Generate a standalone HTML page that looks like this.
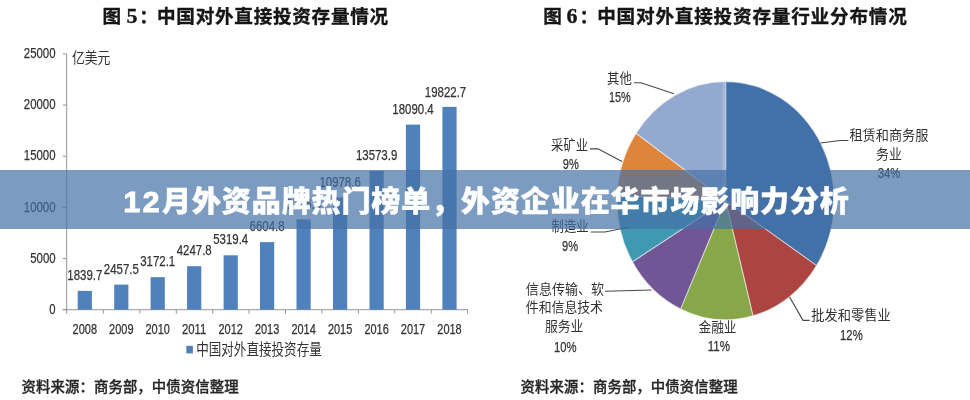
<!DOCTYPE html>
<html lang="zh-CN">
<head>
<meta charset="utf-8">
<title>12月外资品牌热门榜单，外资企业在华市场影响力分析</title>
<style>
html,body{margin:0;padding:0;background:#fff;}
body{width:970px;height:400px;position:relative;overflow:hidden;font-family:"Liberation Sans", "Noto Sans CJK SC", sans-serif;}
.wrap{position:absolute;left:0;top:0;width:970px;height:400px;overflow:hidden;background:#fff;}
.chart{position:absolute;left:0;top:0;font-family:"Liberation Sans", "Noto Sans CJK SC", sans-serif;}
.banner{position:absolute;left:0;top:170px;width:970px;height:58.6px;background:rgba(69,113,165,0.7);}
.banner h1 .n{font-size:30px;letter-spacing:2.4px;margin-right:0.3px;-webkit-text-stroke:1.1px #fff;}
.banner h1{margin:0;position:absolute;left:0;right:0;top:0;height:58.6px;line-height:63.4px;text-align:left;color:#fff;font-size:29px;font-weight:900;white-space:nowrap;font-family:"Liberation Sans", "Noto Sans CJK SC", sans-serif;letter-spacing:0.9px;-webkit-text-stroke:0.45px #fff;padding-left:123.6px;box-sizing:border-box;}
</style>
</head>
<body>
<div class="wrap">
<svg width="970" height="400" viewBox="0 0 970 400" class="chart">
<g font-weight="700" fill="#161616" stroke="#161616" stroke-width="0.35" font-size="18.6">
<text x="102.6" y="22.6">图</text>
<text x="126.4" y="22.6" font-family='"Liberation Serif", "Noto Serif CJK SC", serif' font-size="22">5</text>
<text x="139.2" y="22.6">：</text>
<text x="157.0" y="22.6" textLength="231.2" lengthAdjust="spacing">中国对外直接投资存量情况</text>
</g>
<g font-weight="700" fill="#161616" stroke="#161616" stroke-width="0.35" font-size="18.6">
<text x="543.2" y="22.6">图</text>
<text x="566.4" y="22.6" font-family='"Liberation Serif", "Noto Serif CJK SC", serif' font-size="22">6</text>
<text x="579.5" y="22.6">：</text>
<text x="597.2" y="22.6" textLength="309.6" lengthAdjust="spacing">中国对外直接投资存量行业分布情况</text>
</g>
<g stroke="#969696" stroke-width="1" fill="none">
<path d="M66.7 53.9V313.7"/>
<path d="M62.7 309.7H468.1"/>
<path d="M62.7 309.7H66.7"/>
<path d="M62.7 258.6H66.7"/>
<path d="M62.7 207.4H66.7"/>
<path d="M62.7 156.2H66.7"/>
<path d="M62.7 105.1H66.7"/>
<path d="M62.7 53.9H66.7"/>
<path d="M103.4 309.7V313.7"/>
<path d="M139.8 309.7V313.7"/>
<path d="M176.3 309.7V313.7"/>
<path d="M212.7 309.7V313.7"/>
<path d="M249.1 309.7V313.7"/>
<path d="M285.5 309.7V313.7"/>
<path d="M321.9 309.7V313.7"/>
<path d="M358.4 309.7V313.7"/>
<path d="M394.8 309.7V313.7"/>
<path d="M431.2 309.7V313.7"/>
<path d="M467.6 309.7V313.7"/>
</g>
<g fill="#333333" stroke="#333333" stroke-width="0.25" font-size="14.4" text-anchor="end">
<text x="55.6" y="313.8" textLength="6.3" lengthAdjust="spacingAndGlyphs">0</text>
<text x="55.6" y="262.7" textLength="25.4" lengthAdjust="spacingAndGlyphs">5000</text>
<text x="55.6" y="211.5" textLength="31.8" lengthAdjust="spacingAndGlyphs">10000</text>
<text x="55.6" y="160.4" textLength="31.8" lengthAdjust="spacingAndGlyphs">15000</text>
<text x="55.6" y="109.2" textLength="31.8" lengthAdjust="spacingAndGlyphs">20000</text>
<text x="55.6" y="58.1" textLength="31.8" lengthAdjust="spacingAndGlyphs">25000</text>
</g>
<text x="72" y="62.8" font-size="14.8" fill="#333333" textLength="38.4" lengthAdjust="spacingAndGlyphs">亿美元</text>
<g fill="#4f81bd">
<rect x="77.7" y="290.9" width="14.2" height="18.8"/>
<rect x="114.2" y="284.6" width="14.2" height="25.1"/>
<rect x="150.6" y="277.2" width="14.2" height="32.5"/>
<rect x="187.1" y="266.2" width="14.2" height="43.5"/>
<rect x="223.6" y="255.3" width="14.2" height="54.4"/>
<rect x="260.0" y="242.1" width="14.2" height="67.6"/>
<rect x="296.5" y="219.4" width="14.2" height="90.3"/>
<rect x="333.0" y="197.4" width="14.2" height="112.3"/>
<rect x="369.5" y="170.8" width="14.2" height="138.9"/>
<rect x="405.9" y="124.6" width="14.2" height="185.1"/>
<rect x="442.4" y="106.9" width="14.2" height="202.8"/>
</g>
<g fill="#333333" stroke="#333333" stroke-width="0.25" font-size="14.4" text-anchor="middle">
<text x="84.8" y="279.9" textLength="35.0" lengthAdjust="spacingAndGlyphs">1839.7</text>
<text x="121.3" y="273.6" textLength="35.0" lengthAdjust="spacingAndGlyphs">2457.5</text>
<text x="157.7" y="266.3" textLength="35.0" lengthAdjust="spacingAndGlyphs">3172.1</text>
<text x="194.2" y="255.3" textLength="35.0" lengthAdjust="spacingAndGlyphs">4247.8</text>
<text x="230.7" y="244.4" textLength="35.0" lengthAdjust="spacingAndGlyphs">5319.4</text>
<text x="267.1" y="231.3" textLength="35.0" lengthAdjust="spacingAndGlyphs">6604.8</text>
<text x="303.6" y="208.7" textLength="35.0" lengthAdjust="spacingAndGlyphs">8826.4</text>
<text x="340.1" y="186.8" textLength="41.4" lengthAdjust="spacingAndGlyphs">10978.6</text>
<text x="376.6" y="160.3" textLength="41.4" lengthAdjust="spacingAndGlyphs">13573.9</text>
<text x="413.0" y="114.3" textLength="41.4" lengthAdjust="spacingAndGlyphs">18090.4</text>
<text x="445.5" y="96.7" textLength="41.4" lengthAdjust="spacingAndGlyphs">19822.7</text>
</g>
<g fill="#333333" stroke="#333333" stroke-width="0.25" font-size="14.4" text-anchor="middle">
<text x="84.8" y="333.7" textLength="24.4" lengthAdjust="spacingAndGlyphs">2008</text>
<text x="121.3" y="333.7" textLength="24.4" lengthAdjust="spacingAndGlyphs">2009</text>
<text x="157.7" y="333.7" textLength="24.4" lengthAdjust="spacingAndGlyphs">2010</text>
<text x="194.2" y="333.7" textLength="24.4" lengthAdjust="spacingAndGlyphs">2011</text>
<text x="230.7" y="333.7" textLength="24.4" lengthAdjust="spacingAndGlyphs">2012</text>
<text x="267.1" y="333.7" textLength="24.4" lengthAdjust="spacingAndGlyphs">2013</text>
<text x="303.6" y="333.7" textLength="24.4" lengthAdjust="spacingAndGlyphs">2014</text>
<text x="340.1" y="333.7" textLength="24.4" lengthAdjust="spacingAndGlyphs">2015</text>
<text x="376.6" y="333.7" textLength="24.4" lengthAdjust="spacingAndGlyphs">2016</text>
<text x="413.0" y="333.7" textLength="24.4" lengthAdjust="spacingAndGlyphs">2017</text>
<text x="449.5" y="333.7" textLength="24.4" lengthAdjust="spacingAndGlyphs">2018</text>
</g>
<rect x="186.3" y="345.8" width="6.6" height="7.6" fill="#517fb8"/>
<text x="196.2" y="355" font-size="15.4" fill="#333333" textLength="125.6" lengthAdjust="spacingAndGlyphs">中国对外直接投资存量</text>
<g font-size="14.4" fill="#262626" stroke="#262626" stroke-width="0.3" font-weight="500">
<text x="21.6" y="391.8" textLength="217" lengthAdjust="spacing">资料来源：商务部，中债资信整理</text>
<text x="520.6" y="391.8" textLength="217" lengthAdjust="spacing">资料来源：商务部，中债资信整理</text>
</g>
<g stroke="rgba(255,255,255,0.5)" stroke-width="1.1" stroke-linejoin="round">
<path d="M725.6 200.6L725.60 81.60A108.6 119.0 0 0 1 816.58 265.59Z" fill="#4271a9"/>
<path d="M725.6 200.6L816.58 265.59A108.6 119.0 0 0 1 752.97 315.76Z" fill="#ac4442"/>
<path d="M725.6 200.6L752.97 315.76A108.6 119.0 0 0 1 680.56 308.89Z" fill="#88a74b"/>
<path d="M725.6 200.6L680.56 308.89A108.6 119.0 0 0 1 632.41 261.71Z" fill="#705695"/>
<path d="M725.6 200.6L632.41 261.71A108.6 119.0 0 0 1 617.10 195.41Z" fill="#3e99b1"/>
<path d="M725.6 200.6L617.10 195.41A108.6 119.0 0 0 1 636.10 133.20Z" fill="#de843b"/>
<path d="M725.6 200.6L636.10 133.20A108.6 119.0 0 0 1 725.60 81.60Z" fill="#93a9d0"/>
</g>
<path d="M724.3 82.2V199.6" stroke="#a9c0dc" stroke-width="3.6" stroke-opacity="0.75" fill="none"/>
<g stroke="#484848" stroke-width="1.15" fill="none">
<path d="M633.8 82.7H641L674 93.7"/>
<path d="M590 148.8H598L622 161.5"/>
<path d="M590.7 232H605L621 228.8L629 227.4"/>
<path d="M605 291.2L651.5 290"/>
<path d="M809.6 320.3H803L789.6 297"/>
<path d="M848.4 140.5H840L820.5 143"/>
</g>
<g fill="#333333" text-anchor="middle">
<text x="619.4" y="83.0" font-size="14.2" textLength="24.8" lengthAdjust="spacingAndGlyphs">其他</text>
<text x="619.8" y="102.2" font-size="14.4" stroke="#333333" stroke-width="0.25" textLength="21.8" lengthAdjust="spacingAndGlyphs">15%</text>
<text x="569.5" y="149.7" font-size="14.2" textLength="37" lengthAdjust="spacingAndGlyphs">采矿业</text>
<text x="570.8" y="169.0" font-size="14.4" stroke="#333333" stroke-width="0.25" textLength="16" lengthAdjust="spacingAndGlyphs">9%</text>
<text x="570.1" y="231.0" font-size="14.2" textLength="37.2" lengthAdjust="spacingAndGlyphs">制造业</text>
<text x="570" y="250.8" font-size="14.4" stroke="#333333" stroke-width="0.25" textLength="16" lengthAdjust="spacingAndGlyphs">9%</text>
<text x="565" y="294.2" font-size="14.2" textLength="78.3" lengthAdjust="spacingAndGlyphs">信息传输、软</text>
<text x="564.4" y="312.3" font-size="14.2" textLength="77.2" lengthAdjust="spacingAndGlyphs">件和信息技术</text>
<text x="564.2" y="331.2" font-size="14.2" textLength="38.5" lengthAdjust="spacingAndGlyphs">服务业</text>
<text x="565.3" y="351.7" font-size="14.4" stroke="#333333" stroke-width="0.25" textLength="22.6" lengthAdjust="spacingAndGlyphs">10%</text>
<text x="717.5" y="331.5" font-size="14.2" textLength="38.1" lengthAdjust="spacingAndGlyphs">金融业</text>
<text x="718.9" y="351.4" font-size="14.4" stroke="#333333" stroke-width="0.25" textLength="22.3" lengthAdjust="spacingAndGlyphs">11%</text>
<text x="851" y="320.2" font-size="14.2" textLength="79.4" lengthAdjust="spacingAndGlyphs">批发和零售业</text>
<text x="851.4" y="340.3" font-size="14.4" stroke="#333333" stroke-width="0.25" textLength="22.6" lengthAdjust="spacingAndGlyphs">12%</text>
<text x="888.9" y="140.2" font-size="14.2" textLength="79" lengthAdjust="spacingAndGlyphs">租赁和商务服</text>
<text x="889" y="158.9" font-size="14.2" textLength="25.8" lengthAdjust="spacingAndGlyphs">务业</text>
<text x="889" y="177.9" font-size="14.4" stroke="#333333" stroke-width="0.25" textLength="22.6" lengthAdjust="spacingAndGlyphs">34%</text>
</g>
</svg>
<div class="banner"><h1><span class="n">12</span>月外资品牌热门榜单，外资企业在华市场影响力分析</h1></div>
</div>
</body>
</html>
